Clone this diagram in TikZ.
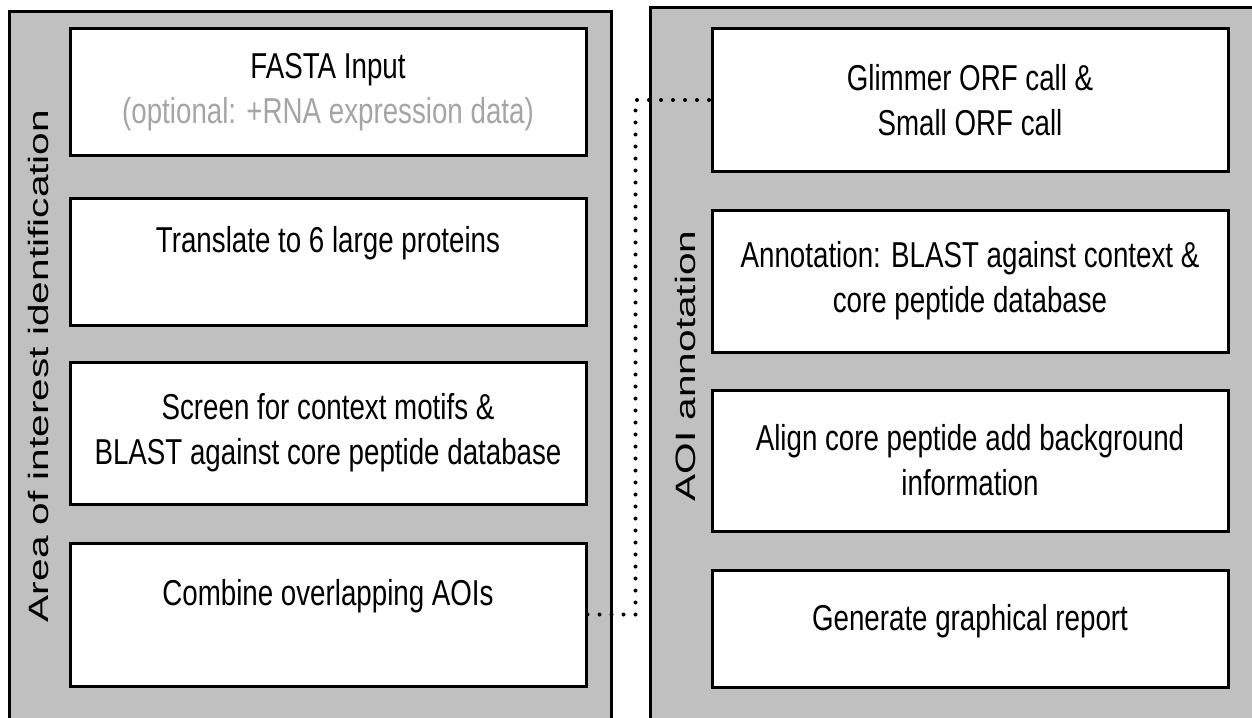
\documentclass[tikz,border=0pt]{standalone}
\definecolor{PanelGray}{RGB}{192,192,192}
\definecolor{HintGray}{RGB}{165,165,165}
\usepackage{fontspec}
\setmainfont{Liberation Sans}
\newfontfamily\tallfont[FakeStretch=0.77]{Liberation Sans}
\usepackage{tikz}
\usetikzlibrary{positioning, calc}

\begin{document}
\begin{tikzpicture}[x=0.5pt, y=-0.5pt,
    panel/.style={draw=black, line width=1.5pt, fill=PanelGray},
    stepbox/.style={draw=black, line width=1.5pt, fill=white, minimum width=258pt,
      align=center, inner sep=0pt, font=\tallfont\fontsize{18}{22.5}\selectfont},
    sidelabel/.style={rotate=90, inner sep=0pt, font=\fontsize{14}{16}\selectfont},
    dotline/.style={line width=2pt, line cap=round, dash pattern=on 0pt off 6pt}]
          \useasboundingbox (0,0) rectangle (1252,717);
          \draw[panel] (9,12) rectangle (611,760);
          \draw[panel] (650,8) rectangle (1280,760);
          \node[sidelabel] (aoiid) at (38,366) {\scalebox{1.45}[1]{Area of interest identification}};
          \node[sidelabel] (aoiann) at (685,366) {\scalebox{1.45}[1]{AOI annotation}};
          \node[stepbox, minimum height=63pt] (fasta) at (328,92) {FASTA Input\\\textcolor{HintGray}{(optional: +RNA expression data)}};
          \node[stepbox, minimum height=63.5pt] (translate) at (328,261.5) {Translate to 6 large proteins\\~};
          \node[stepbox, minimum height=71pt] (screen) at (328,433) {Screen for context motifs \&\\BLAST against core peptide database};
          \node[stepbox, minimum height=71.5pt] (combine) at (328,614.5) {Combine overlapping AOIs\\~};
          \node[stepbox, minimum height=71pt] (glimmer) at (970,100) {Glimmer ORF call \&\\Small ORF call};
          \node[stepbox, minimum height=71pt] (annot) at (970,281) {Annotation: BLAST against context \&\\core peptide database};
          \node[stepbox, minimum height=70.5pt] (align) at (970,460.5) {Align core peptide add background\\information};
          \node[stepbox, minimum height=58.5pt] (report) at (970,628.5) {Generate graphical report\\[-11.5pt]~};
          \draw[dotline] (combine.east) -- ++(48,0) |- (glimmer.west);
        \end{tikzpicture}
\end{document}
